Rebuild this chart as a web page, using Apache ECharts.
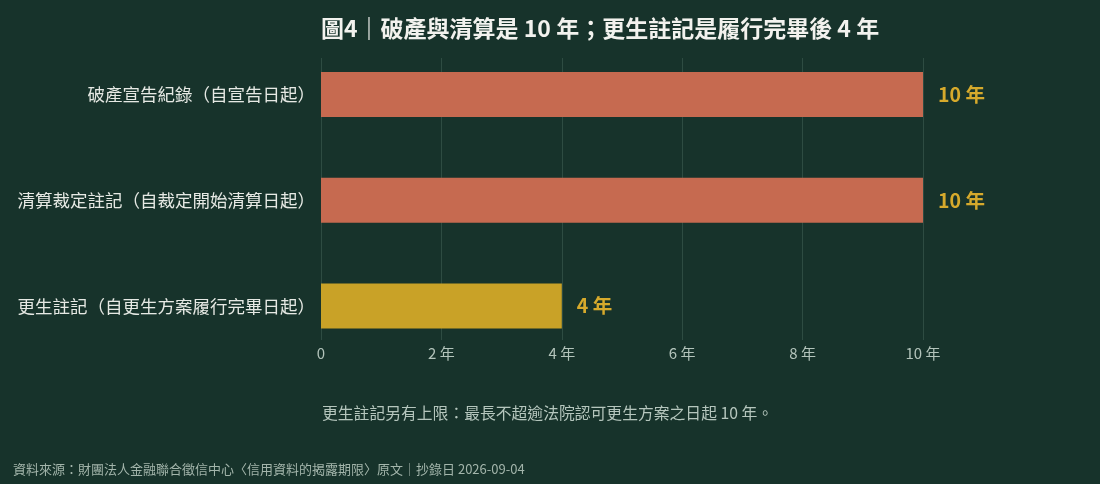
<!DOCTYPE html>
<html>
<head>
<meta charset="utf-8">
<script src="https://cdn.jsdelivr.net/npm/echarts@6/dist/echarts.min.js"></script>
<style>
html,body{margin:0;padding:0;background:#17332b;}
#c{width:1100px;height:484px;}
</style>
</head>
<body>
<div id="c"></div>
<script>
const categories = ['破產宣告紀錄（自宣告日起）', '清算裁定註記（自裁定開始清算日起）', '更生註記（自更生方案履行完畢日起）'];
const years = [10, 10, 4];
const barColors = ['#c66a50', '#c66a50', '#c9a227'];
const xTicks = [0, 2, 4, 6, 8, 10];
const titleText = '圖4｜破產與清算是 10 年；更生註記是履行完畢後 4 年';
const noteText = '更生註記另有上限：最長不超逾法院認可更生方案之日起 10 年。';
const sourceText = '資料來源：財團法人金融聯合徵信中心〈信用資料的揭露期限〉原文｜抄錄日 2026-09-04';

const FONT = '"Noto Sans CJK TC", "Noto Sans", sans-serif';
const chart = echarts.init(document.getElementById('c'));
chart.setOption({
  backgroundColor: '#17332b',
  textStyle: { fontFamily: FONT },
  title: [
    { text: titleText, left: 316, top: 12,
      textStyle: { color: '#f2f2ee', fontSize: 23, fontWeight: 'bold', fontFamily: FONT } },
    { text: noteText, left: 317, top: 400,
      textStyle: { color: '#b5c6bd', fontSize: 15.8, fontWeight: 'normal', fontFamily: FONT } },
    { text: sourceText, left: 8, top: 458,
      textStyle: { color: '#a3b5ab', fontSize: 13, fontWeight: 'normal', fontFamily: FONT } }
  ],
  grid: [
    { left: 321, right: 177, top: 58, bottom: 144 },
    { left: 321, right: 177, top: 41.5, bottom: 125 }
  ],
  xAxis: [
    { type: 'value', gridIndex: 0, min: xTicks[0], max: xTicks[xTicks.length - 1], interval: 2,
      axisLine: { show: false }, axisTick: { show: false },
      splitLine: { show: true, lineStyle: { color: '#2e4c42', width: 1 } },
      axisLabel: { color: '#b3c4bb', fontSize: 15, margin: 6, fontFamily: FONT,
        formatter: v => v === 0 ? '0' : v + ' 年' } },
    { type: 'value', gridIndex: 1, min: xTicks[0], max: xTicks[xTicks.length - 1],
      show: false, splitLine: { show: false } }
  ],
  yAxis: [
    { type: 'category', gridIndex: 0, data: categories, inverse: true, show: false },
    { type: 'category', gridIndex: 1, data: categories, inverse: true,
      axisLine: { show: false }, axisTick: { show: false },
      axisLabel: { color: '#e6e9e4', fontSize: 17.5, margin: 6, fontFamily: FONT } }
  ],
  series: [{
    type: 'bar',
    xAxisIndex: 1, yAxisIndex: 1,
    barWidth: 45,
    data: years.map((v, i) => ({ value: v, itemStyle: { color: barColors[i] } })),
    label: {
      show: true, position: 'right', distance: 15,
      color: '#d6aa2c', fontSize: 19.5, fontWeight: 'bold', fontFamily: FONT,
      formatter: p => p.value + ' 年'
    },
    animation: false
  }],
  animation: false
});
</script>
</body>
</html>
